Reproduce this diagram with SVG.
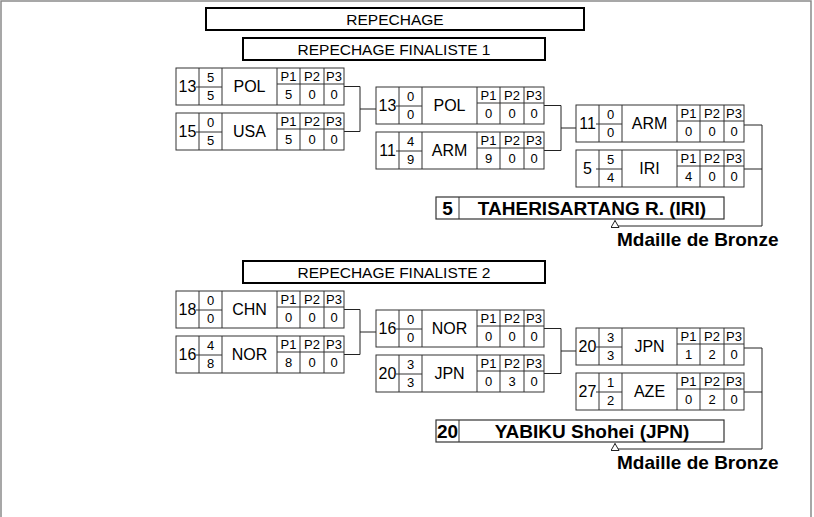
<svg xmlns="http://www.w3.org/2000/svg" width="814" height="517" viewBox="0 0 814 517">
<style>
text{font-family:"Liberation Sans",Arial,sans-serif;fill:#000;text-anchor:middle}
.frame{fill:none;stroke:#8a8a8a;stroke-width:1.5}
.hdr{fill:#fff;stroke:#000;stroke-width:2}
.ht{font-size:15.5px}
.box{fill:#fff;stroke:#333;stroke-width:1}
.ln{fill:none;stroke:#333;stroke-width:1}
.seed{font-size:16px}
.nm{font-size:16px}
.sc{font-size:13px}
.p{font-size:13px}
.win{fill:#fff;stroke:#333;stroke-width:1.2}
.wt{font-size:19px;font-weight:bold}
.bz{font-size:19px;font-weight:bold;text-anchor:start}
.con{fill:none;stroke:#222;stroke-width:1}
</style>
<defs>
<marker id="arr" markerWidth="10" markerHeight="10" refX="8" refY="4.5" orient="auto" markerUnits="userSpaceOnUse">
<path d="M1,0.5 L8,4.5 L1,8.5 Z" fill="#fff" stroke="#222" stroke-width="1"/>
</marker>
<g id="cell">
<rect class="box" width="168" height="37"/>
<path class="ln" d="M23,0V37M46,0V37M101,0V37M124,0V37M148,0V37M101,16H168M20,19H46"/>
<text class="p" x="112.5" y="12.5">P1</text>
<text class="p" x="136" y="12.5">P2</text>
<text class="p" x="158" y="12.5">P3</text>
</g>
</defs>
<path class="frame" d="M1,517V1H811V517"/>

<g id="header-repechage"><rect class="hdr" x="206" y="8" width="378" height="22"/><text class="ht" x="395" y="25">REPECHAGE</text></g>
<g id="header-finaliste-1"><rect class="hdr" x="243" y="38" width="302" height="22"/><text class="ht" x="394" y="55">REPECHAGE FINALISTE 1</text></g>
<g id="header-finaliste-2"><rect class="hdr" x="243" y="261" width="302" height="22"/><text class="ht" x="394" y="278">REPECHAGE FINALISTE 2</text></g>

<g id="connectors">
<path class="con" d="M344,86.5H360V131.5H344M360,109H376"/>
<path class="con" d="M544,105.5H561V150.5H544M561,128H576"/>
<path class="con" d="M744,125H762V226H615V220.5" marker-end="url(#arr)"/>
<path class="con" d="M744,169H762"/>
<path class="con" d="M344,309.5H360V354.5H344M360,332H376"/>
<path class="con" d="M544,328.5H561V373.5H544M561,351H576"/>
<path class="con" d="M744,348H762V449H615V443.5" marker-end="url(#arr)"/>
<path class="con" d="M744,392H762"/>
</g>

<g id="b1-r1-pol" transform="translate(176,68)"><use href="#cell"/><text class="seed" x="11.5" y="24">13</text><text class="sc" x="34.5" y="14">5</text><text class="sc" x="34.5" y="32">5</text><text class="nm" x="73.5" y="24">POL</text><text class="sc" x="112.5" y="31">5</text><text class="sc" x="136" y="31">0</text><text class="sc" x="158" y="31">0</text></g>
<g id="b1-r1-usa" transform="translate(176,113)"><use href="#cell"/><text class="seed" x="11.5" y="24">15</text><text class="sc" x="34.5" y="14">0</text><text class="sc" x="34.5" y="32">5</text><text class="nm" x="73.5" y="24">USA</text><text class="sc" x="112.5" y="31">5</text><text class="sc" x="136" y="31">0</text><text class="sc" x="158" y="31">0</text></g>
<g id="b1-r2-pol" transform="translate(376,87)"><use href="#cell"/><text class="seed" x="11.5" y="24">13</text><text class="sc" x="34.5" y="14">0</text><text class="sc" x="34.5" y="32">0</text><text class="nm" x="73.5" y="24">POL</text><text class="sc" x="112.5" y="31">0</text><text class="sc" x="136" y="31">0</text><text class="sc" x="158" y="31">0</text></g>
<g id="b1-r2-arm" transform="translate(376,132)"><use href="#cell"/><text class="seed" x="11.5" y="24">11</text><text class="sc" x="34.5" y="14">4</text><text class="sc" x="34.5" y="32">9</text><text class="nm" x="73.5" y="24">ARM</text><text class="sc" x="112.5" y="31">9</text><text class="sc" x="136" y="31">0</text><text class="sc" x="158" y="31">0</text></g>
<g id="b1-r3-arm" transform="translate(576,105)"><use href="#cell"/><text class="seed" x="11.5" y="24">11</text><text class="sc" x="34.5" y="14">0</text><text class="sc" x="34.5" y="32">0</text><text class="nm" x="73.5" y="24">ARM</text><text class="sc" x="112.5" y="31">0</text><text class="sc" x="136" y="31">0</text><text class="sc" x="158" y="31">0</text></g>
<g id="b1-r3-iri" transform="translate(576,150)"><use href="#cell"/><text class="seed" x="11.5" y="24">5</text><text class="sc" x="34.5" y="14">5</text><text class="sc" x="34.5" y="32">4</text><text class="nm" x="73.5" y="24">IRI</text><text class="sc" x="112.5" y="31">4</text><text class="sc" x="136" y="31">0</text><text class="sc" x="158" y="31">0</text></g>
<g id="b1-winner"><rect class="win" x="436" y="197" width="288" height="22"/><path class="ln" d="M459,197V219"/><text class="wt" x="447.5" y="215">5</text><text class="wt" x="592" y="215">TAHERISARTANG R. (IRI)</text></g>
<g id="b1-bronze"><text class="bz" x="617" y="246">Mdaille de Bronze</text></g>

<g id="b2-r1-chn" transform="translate(176,291)"><use href="#cell"/><text class="seed" x="11.5" y="24">18</text><text class="sc" x="34.5" y="14">0</text><text class="sc" x="34.5" y="32">0</text><text class="nm" x="73.5" y="24">CHN</text><text class="sc" x="112.5" y="31">0</text><text class="sc" x="136" y="31">0</text><text class="sc" x="158" y="31">0</text></g>
<g id="b2-r1-nor" transform="translate(176,336)"><use href="#cell"/><text class="seed" x="11.5" y="24">16</text><text class="sc" x="34.5" y="14">4</text><text class="sc" x="34.5" y="32">8</text><text class="nm" x="73.5" y="24">NOR</text><text class="sc" x="112.5" y="31">8</text><text class="sc" x="136" y="31">0</text><text class="sc" x="158" y="31">0</text></g>
<g id="b2-r2-nor" transform="translate(376,310)"><use href="#cell"/><text class="seed" x="11.5" y="24">16</text><text class="sc" x="34.5" y="14">0</text><text class="sc" x="34.5" y="32">0</text><text class="nm" x="73.5" y="24">NOR</text><text class="sc" x="112.5" y="31">0</text><text class="sc" x="136" y="31">0</text><text class="sc" x="158" y="31">0</text></g>
<g id="b2-r2-jpn" transform="translate(376,355)"><use href="#cell"/><text class="seed" x="11.5" y="24">20</text><text class="sc" x="34.5" y="14">3</text><text class="sc" x="34.5" y="32">3</text><text class="nm" x="73.5" y="24">JPN</text><text class="sc" x="112.5" y="31">0</text><text class="sc" x="136" y="31">3</text><text class="sc" x="158" y="31">0</text></g>
<g id="b2-r3-jpn" transform="translate(576,328)"><use href="#cell"/><text class="seed" x="11.5" y="24">20</text><text class="sc" x="34.5" y="14">3</text><text class="sc" x="34.5" y="32">3</text><text class="nm" x="73.5" y="24">JPN</text><text class="sc" x="112.5" y="31">1</text><text class="sc" x="136" y="31">2</text><text class="sc" x="158" y="31">0</text></g>
<g id="b2-r3-aze" transform="translate(576,373)"><use href="#cell"/><text class="seed" x="11.5" y="24">27</text><text class="sc" x="34.5" y="14">1</text><text class="sc" x="34.5" y="32">2</text><text class="nm" x="73.5" y="24">AZE</text><text class="sc" x="112.5" y="31">0</text><text class="sc" x="136" y="31">2</text><text class="sc" x="158" y="31">0</text></g>
<g id="b2-winner"><rect class="win" x="436" y="420" width="288" height="22"/><path class="ln" d="M459,420V442"/><text class="wt" x="447.5" y="438">20</text><text class="wt" x="592" y="438">YABIKU Shohei (JPN)</text></g>
<g id="b2-bronze"><text class="bz" x="617" y="469">Mdaille de Bronze</text></g>
</svg>
